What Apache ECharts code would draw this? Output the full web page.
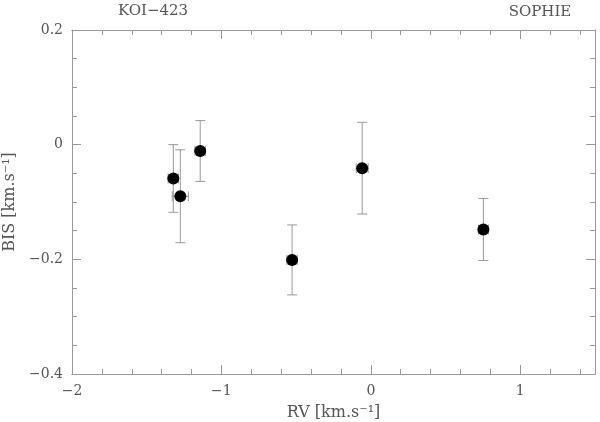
<!DOCTYPE html>
<html>
<head>
<meta charset="utf-8">
<script src="https://cdn.jsdelivr.net/npm/echarts@6/dist/echarts.min.js"></script>
<style>
  html, body { margin: 0; padding: 0; background: #fff; }
  #chart { width: 600px; height: 422px; }
</style>
</head>
<body>
<div id="chart"></div>
<script>
// KOI-423, SOPHIE: bisector span vs radial velocity
const rv = [-1.322, -1.275, -1.142, -0.527, -0.058, 0.753]
const rvErr = [0.035, 0.054, 0.035, 0.035, 0.040, 0.033]
const bis = [-0.059, -0.090, -0.011, -0.201, -0.041, -0.148]
const bisErr = [0.059, 0.081, 0.053, 0.061, 0.080, 0.054]

const xTicks = [-2, -1, 0, 1]
const yTicks = [-0.4, -0.2, 0, 0.2]

const fontFamily = 'DejaVu Serif, Liberation Serif, serif'
const textColor = '#555'
const lineColor = '#999'

const points = rv.map((x, i) => [x, bis[i], rvErr[i], bisErr[i]])

const minus = (v) => String(v).replace('-', '\u2212')

// one x axis for the frame: major or minor ticks, bottom or top
const makeX = (position, interval, tickLen, labels) => ({
  type: 'value',
  position: position,
  min: xTicks[0],
  max: 1.5,
  interval: interval,
  axisLine: { show: true, onZero: false, lineStyle: { color: lineColor, width: 1 } },
  axisTick: { show: true, inside: true, length: tickLen, lineStyle: { color: lineColor } },
  axisLabel: {
    show: labels,
    showMaxLabel: false,
    margin: 10,
    color: textColor,
    fontSize: 14,
    fontFamily: fontFamily,
    formatter: (v) => minus(v)
  },
  splitLine: { show: false }
})

const makeY = (position, labels) => ({
  type: 'value',
  position: position,
  min: yTicks[0],
  max: yTicks[yTicks.length - 1],
  interval: 0.2,
  axisLine: { show: true, onZero: false, lineStyle: { color: lineColor, width: 1 } },
  axisTick: { show: true, inside: true, length: 9, lineStyle: { color: lineColor } },
  minorTick: { show: true, splitNumber: 4, length: 5, lineStyle: { color: lineColor } },
  axisLabel: {
    show: labels,
    margin: 9,
    color: textColor,
    fontSize: 14,
    fontFamily: fontFamily,
    formatter: (v) => minus(Math.round(v * 10) / 10)
  },
  splitLine: { show: false }
})

const xBottom = makeX('bottom', 1, 9, true)
xBottom.name = 'RV [km.s\u207B\u00B9]'
xBottom.nameLocation = 'middle'
xBottom.nameGap = 31
xBottom.nameTextStyle = { color: textColor, fontSize: 16, fontFamily: fontFamily }

const yLeft = makeY('left', true)
yLeft.name = 'BIS [km.s\u207B\u00B9]'
yLeft.nameLocation = 'middle'
yLeft.nameGap = 47
yLeft.nameTextStyle = { color: textColor, fontSize: 16, fontFamily: fontFamily }

const option = {
  animation: false,
  backgroundColor: '#fff',
  grid: { left: 72, right: 5, top: 30, bottom: 48, containLabel: false, outerBoundsMode: 'none' },
  xAxis: [
    xBottom,
    makeX('bottom', 0.2, 5, false),
    makeX('top', 1, 9, false),
    makeX('top', 0.2, 5, false)
  ],
  yAxis: [yLeft, makeY('right', false)],
  graphic: [
    {
      type: 'text', x: 153, y: 11,
      style: { text: 'KOI\u2212423', fill: textColor, font: '15px ' + fontFamily, align: 'center', verticalAlign: 'middle' }
    },
    {
      type: 'text', x: 540, y: 12,
      style: { text: 'SOPHIE', fill: textColor, font: '15px ' + fontFamily, align: 'center', verticalAlign: 'middle' }
    }
  ],
  series: [
    {
      name: 'errors',
      type: 'custom',
      xAxisIndex: 0,
      yAxisIndex: 0,
      data: points,
      renderItem: (params, api) => {
        const x = api.value(0)
        const y = api.value(1)
        const ex = api.value(2)
        const ey = api.value(3)
        const top = api.coord([x, y + ey])
        const bot = api.coord([x, y - ey])
        const lft = api.coord([x - ex, y])
        const rgt = api.coord([x + ex, y])
        const cap = 5
        const style = { stroke: lineColor, lineWidth: 1 }
        const line = (x1, y1, x2, y2) => ({ type: 'line', shape: { x1, y1, x2, y2 }, style })
        return {
          type: 'group',
          children: [
            line(top[0], top[1], bot[0], bot[1]),
            line(top[0] - cap, top[1], top[0] + cap, top[1]),
            line(bot[0] - cap, bot[1], bot[0] + cap, bot[1]),
            line(lft[0], lft[1], rgt[0], rgt[1]),
            line(lft[0], lft[1] - cap, lft[0], lft[1] + cap),
            line(rgt[0], rgt[1] - cap, rgt[0], rgt[1] + cap)
          ]
        }
      },
      z: 1
    },
    {
      name: 'BIS',
      type: 'scatter',
      xAxisIndex: 0,
      yAxisIndex: 0,
      data: points.map(p => [p[0], p[1]]),
      symbol: 'circle',
      symbolSize: 12,
      itemStyle: { color: '#000', opacity: 1 },
      z: 2
    }
  ]
}

const chart = echarts.init(document.getElementById('chart'))
chart.setOption(option)
</script>
</body>
</html>
